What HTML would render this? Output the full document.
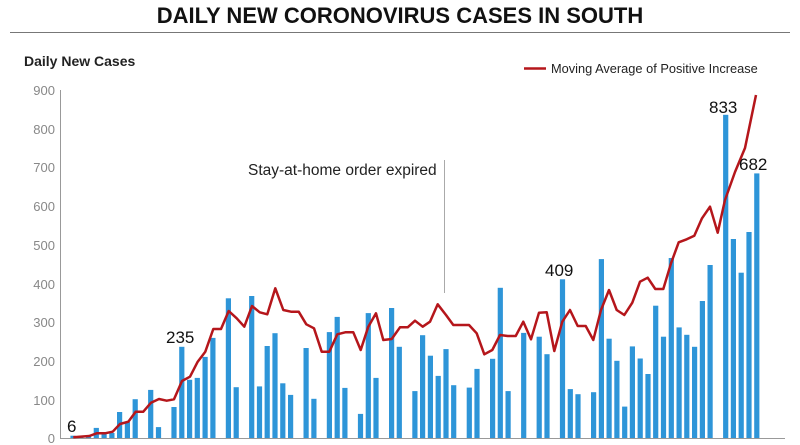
<!DOCTYPE html>
<html><head><meta charset="utf-8">
<style>
html,body{margin:0;padding:0;background:#fff;width:800px;height:445px;overflow:hidden;font-family:"Liberation Sans",sans-serif;}
</style></head>
<body>
<svg id="c" width="800" height="445" xmlns="http://www.w3.org/2000/svg" font-family="Liberation Sans, sans-serif">
<text x="400" y="23" text-anchor="middle" font-size="22" font-weight="bold" fill="#111">DAILY NEW CORONOVIRUS CASES IN SOUTH</text>
<line x1="10" y1="32.5" x2="790" y2="32.5" stroke="#777" stroke-width="1"/>
<text x="24" y="66" font-size="14" font-weight="bold" fill="#222">Daily New Cases</text>
<line x1="524" y1="68.5" x2="546" y2="68.5" stroke="#b5161b" stroke-width="2.5"/>
<text x="551" y="73" font-size="12.8" fill="#222">Moving Average of Positive Increase</text>
<g font-size="13" fill="#888" text-anchor="end">
<text x="55" y="95">900</text><text x="55" y="134">800</text><text x="55" y="172">700</text>
<text x="55" y="211">600</text><text x="55" y="250">500</text><text x="55" y="289">400</text>
<text x="55" y="327">300</text><text x="55" y="366">200</text><text x="55" y="405">100</text>
<text x="55" y="443">0</text>
</g>
<line x1="60.5" y1="90" x2="60.5" y2="439" stroke="#999" stroke-width="1"/>
<line x1="60" y1="438.5" x2="785" y2="438.5" stroke="#999" stroke-width="1"/>
<g id="bars" fill="#2e95d8"></g>
<line x1="444.5" y1="160" x2="444.5" y2="293" stroke="#aaa" stroke-width="1"/>
<text x="248" y="175" font-size="15.5" fill="#222">Stay-at-home order expired</text>
<polyline id="ma" fill="none" stroke="#b5161b" stroke-width="2.5" stroke-linejoin="round" points=""/>
<g font-size="17" fill="#111">
<text x="67" y="432">6</text><text x="166" y="343">235</text><text x="545" y="276">409</text>
<text x="709" y="113">833</text><text x="739" y="170">682</text>
</g>
</svg>
<script>
var v=[6,3,5,26,10,13,67,41,100,0,124,28,0,80,235,150,155,209,258,0,360,131,0,366,133,237,270,141,111,0,232,101,0,273,312,129,0,62,322,155,0,335,235,0,121,265,212,160,229,136,0,130,178,0,204,387,121,0,271,0,261,216,0,409,126,113,0,118,461,256,199,81,236,205,165,341,261,464,285,266,235,353,446,0,833,513,426,531,682];
var g=document.getElementById('bars'),s='';
for(var i=0;i<v.length;i++){if(!v[i])continue;var h=v[i]*0.388,x=73+7.77*i-2.6;s+='<rect x="'+x.toFixed(1)+'" y="'+(438-h).toFixed(1)+'" width="5.2" height="'+h.toFixed(1)+'"/>';}
g.innerHTML=s;
var a=[[220,472],[268,468],[290,460],[315,460],[338,455],[360,432],[385,425],[407,395],[430,395],[453,368],[477,357],[500,362],[522,358],[546,303],[570,290],[593,245],[616,215],[640,147],[663,147],[686,93],[710,115],[733,140],[756,78],[779,97],[802,103],[826,25],[850,90],[873,95],[896,95],[919,133],[942,145],[965,215],[988,215],[1012,163],[1036,157],[1060,157],[1082,210],[1105,140],[1128,100],[1150,180],[1175,177]];
var b=[[0,382],[23,382],[45,362],[68,380],[90,365],[113,313],[138,345],[160,375],[207,375],[230,400],[253,463],[277,450],[300,405],[323,408],[347,408],[370,365],[393,418],[417,338],[440,337],[463,453],[487,365],[510,330],[533,378],[557,378],[580,420],[603,330],[627,270],[650,330],[673,345],[697,308],[720,245],[743,233],[766,267],[790,267],[813,190],[836,127],[860,118],[883,107],[906,55],[930,20],[953,98]];
var p=[];a.forEach(function(q){p.push((q[0]/3).toFixed(1)+','+(280+q[1]/3).toFixed(1));});
b.forEach(function(q){p.push((400+q[0]/3).toFixed(1)+','+(200+q[1]/3).toFixed(1));});
p.push('725,200','735,172','745,148','756,95');
document.getElementById('ma').setAttribute('points',p.join(' '));
</script>
</body></html>
